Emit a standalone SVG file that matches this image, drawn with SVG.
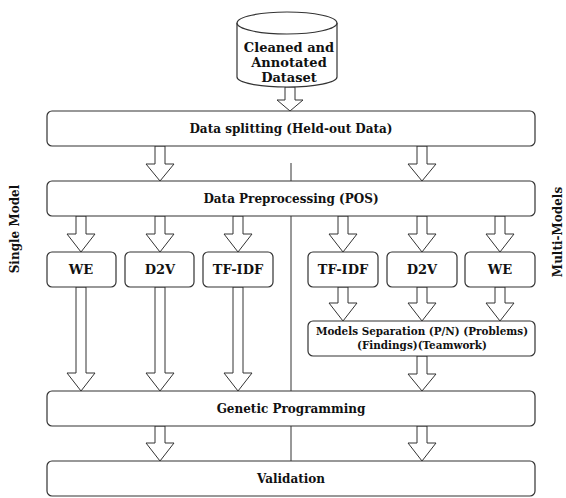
<svg xmlns="http://www.w3.org/2000/svg" width="566" height="498" viewBox="0 0 566 498">
<style>
.box{fill:#fff;stroke:#333;stroke-width:1.2}
.arr{fill:#fff;stroke:#333;stroke-width:1}
.t{font-family:"DejaVu Serif",serif;font-weight:bold;font-size:12px;fill:#111;text-anchor:middle}
.s{font-size:13px}
.m{font-size:10.4px}
.div{stroke:#333;stroke-width:1}
</style>
<rect width="566" height="498" fill="#fff"/>
<g id="connectors">
<line class="div" x1="291" y1="163" x2="291" y2="461"/>
<path class="arr" d="M285,87 V100 H277 L290,111 L303,100 H295 V87 Z"/>
<path class="arr" d="M155,146 V164 H146 L160,181 L174,164 H165 V146 Z"/>
<path class="arr" d="M417,146 V164 H408 L422,181 L436,164 H427 V146 Z"/>
<path class="arr" d="M76,216 V234 H67 L81,252 L95,234 H86 V216 Z"/>
<path class="arr" d="M155,216 V234 H146 L160,252 L174,234 H165 V216 Z"/>
<path class="arr" d="M233,216 V234 H224 L238,252 L252,234 H243 V216 Z"/>
<path class="arr" d="M338,216 V234 H329 L343,252 L357,234 H348 V216 Z"/>
<path class="arr" d="M417,216 V234 H408 L422,252 L436,234 H427 V216 Z"/>
<path class="arr" d="M495,216 V234 H486 L500,252 L514,234 H505 V216 Z"/>
<path class="arr" d="M76,287 V373 H67 L81,391 L95,373 H86 V287 Z"/>
<path class="arr" d="M155,287 V373 H146 L160,391 L174,373 H165 V287 Z"/>
<path class="arr" d="M233,287 V373 H224 L238,391 L252,373 H243 V287 Z"/>
<path class="arr" d="M338,287 V303 H329 L343,321 L357,303 H348 V287 Z"/>
<path class="arr" d="M417,287 V303 H408 L422,321 L436,303 H427 V287 Z"/>
<path class="arr" d="M495,287 V303 H486 L500,321 L514,303 H505 V287 Z"/>
<path class="arr" d="M417,356 V374 H408 L422,391 L436,374 H427 V356 Z"/>
<path class="arr" d="M155,426 V443 H146 L160,461 L174,443 H165 V426 Z"/>
<path class="arr" d="M417,426 V443 H408 L422,461 L436,443 H427 V426 Z"/>
</g>
<g id="dataset">
<path class="box" d="M237,23 V77 A50,10 0 0 0 337,77 V23"/>
<ellipse class="box" cx="287" cy="23" rx="50" ry="11"/>
<text class="t s" x="289" y="52">Cleaned and</text>
<text class="t s" x="289" y="67">Annotated</text>
<text class="t s" x="289" y="82">Dataset</text>
</g>
<g id="splitting">
<rect class="box" x="47" y="111" width="488" height="35" rx="5"/>
<text class="t" x="291" y="133">Data splitting (Held-out Data)</text>
</g>
<g id="preprocessing">
<rect class="box" x="47" y="181" width="488" height="35" rx="5"/>
<text class="t" x="291" y="203">Data Preprocessing (POS)</text>
</g>
<g id="we-left">
<rect class="box" x="47" y="252" width="69" height="35" rx="5"/>
<text class="t s" x="81" y="274">WE</text>
</g>
<g id="d2v-left">
<rect class="box" x="125" y="252" width="69" height="35" rx="5"/>
<text class="t s" x="160" y="274">D2V</text>
</g>
<g id="tfidf-left">
<rect class="box" x="203" y="252" width="70" height="35" rx="5"/>
<text class="t s" x="238" y="274">TF-IDF</text>
</g>
<g id="tfidf-right">
<rect class="box" x="308" y="252" width="70" height="35" rx="5"/>
<text class="t s" x="343" y="274">TF-IDF</text>
</g>
<g id="d2v-right">
<rect class="box" x="387" y="252" width="70" height="35" rx="5"/>
<text class="t s" x="422" y="274">D2V</text>
</g>
<g id="we-right">
<rect class="box" x="465" y="252" width="70" height="35" rx="5"/>
<text class="t s" x="500" y="274">WE</text>
</g>
<g id="separation">
<rect class="box" x="308" y="321" width="227" height="35" rx="5"/>
<text class="t m" x="422" y="335">Models Separation (P/N) (Problems)</text>
<text class="t m" x="422" y="349">(Findings)(Teamwork)</text>
</g>
<g id="gp">
<rect class="box" x="47" y="391" width="488" height="35" rx="5"/>
<text class="t" x="291" y="413">Genetic Programming</text>
</g>
<g id="validation">
<rect class="box" x="47" y="461" width="488" height="35" rx="5"/>
<text class="t" x="291" y="483">Validation</text>
</g>
<g id="labels">
<text class="t" transform="translate(19,229) rotate(-90)">Single Model</text>
<text class="t" transform="translate(562,232) rotate(-90)">Multi-Models</text>
</g>
</svg>
